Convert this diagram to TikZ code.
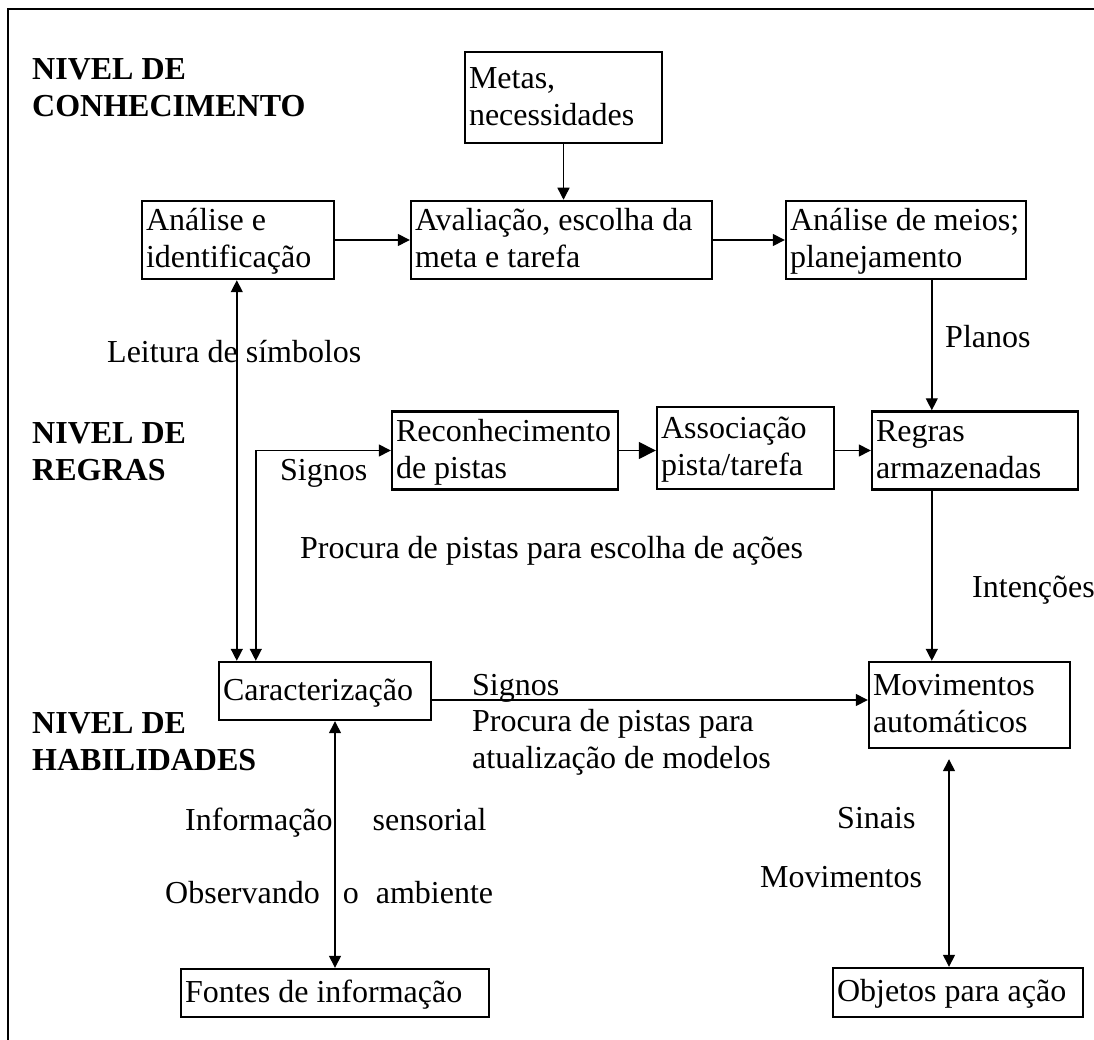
\documentclass[tikz,border=0pt]{standalone}
\usepackage{fontspec}
\setmainfont{Liberation Serif}
\usetikzlibrary{arrows.meta}
\hyphenpenalty=10000
\exhyphenpenalty=10000
% tall strut that opens the first line of a box
\newcommand\topstrut{\rule{0pt}{30pt}}
\begin{document}
\begin{tikzpicture}[x=1pt,y=-1pt,
  every node/.style={font=\fontsize{32}{37}\selectfont},
  box/.style={draw, line width=2.4pt, rectangle, inner xsep=4pt, inner ysep=0pt, align=flush left},
  sz/.style n args={3}{minimum width=#1, minimum height=#2, text width=#3},
  lbl/.style={anchor=base west, inner sep=0pt, align=flush left},
  lvl/.style={lbl, font=\fontsize{32}{37}\selectfont\bfseries},
  conn/.style={line width=1.4pt},
  tip/.style={conn, -{Triangle[length=12pt,width=12pt]}},
  bigtip/.style={conn, -{Triangle[length=17pt,width=17pt]}},
  dbl/.style={conn, {Triangle[length=12pt,width=12pt]}-{Triangle[length=12pt,width=12pt]}}
]
\useasboundingbox (0,0) rectangle (1094,1040);
% outer frame
\draw[line width=1.8pt] (8,1040) -- (8,9) -- (1094,9);

% level titles (anchored at the baseline of their last line)
\node[lvl] (lvk) at (32,117) {NIVEL DE\\CONHECIMENTO};
\node[lvl] (lvr) at (32,480) {NIVEL DE\\REGRAS};
\node[lvl] (lvh) at (32,770) {NIVEL DE\\HABILIDADES};

% boxes
\node[box, sz={197pt}{91pt}{189pt}] (metas) at (563.5,97.5) {\topstrut\mbox{Metas,}\\\mbox{necessidades}\strut};
\node[box, sz={192pt}{78pt}{184pt}] (anal) at (238,240) {\topstrut\mbox{Análise e}\\\mbox{identificação}\strut};
\node[box, sz={301pt}{78pt}{293pt}] (aval) at (561.5,240) {\topstrut\mbox{Avaliação, escolha da}\\\mbox{meta e tarefa}\strut};
\node[box, sz={240pt}{78pt}{232pt}] (meios) at (906,240) {\topstrut\mbox{Análise de meios;}\\\mbox{planejamento}\strut};
\node[box, sz={226pt}{77pt}{218pt}] (recon) at (505,450.5) {\topstrut\mbox{Reconhecimento}\\\mbox{de pistas}\strut};
\node[box, sz={177pt}{82pt}{169pt}] (assoc) at (745.5,448) {\topstrut\mbox{Associação}\\\mbox{pista/tarefa}\strut};
\node[box, sz={206pt}{77pt}{198pt}] (regras) at (975,450.5) {\topstrut\mbox{Regras}\\\mbox{armazenadas}\strut};
\node[box, sz={212pt}{58pt}{204pt}] (caract) at (325,691) {\topstrut\mbox{Caracterização}\strut};
\node[box, sz={201pt}{86pt}{193pt}] (mov) at (969.5,705) {\topstrut\mbox{Movimentos}\\\mbox{automáticos}\strut};
\node[box, sz={308pt}{48pt}{300pt}] (fontes) at (335,993) {\topstrut\mbox{Fontes de informação}\strut};
\node[box, sz={250pt}{49pt}{242pt}] (objetos) at (958,992.5) {\topstrut\mbox{Objetos para ação}\strut};

% connectors
\draw[tip] (metas.south) -- (metas.south |- aval.north);
\draw[tip] (anal.east) -- (aval.west);
\draw[tip] (aval.east) -- (meios.west);
\draw[tip] ([xshift=147pt]meios.south west) coordinate (pl) -- (pl |- regras.north);
\draw[bigtip] (recon.east) -- (recon.east -| assoc.west);
\draw[tip] (regras.west -| assoc.east) -- (regras.west);
\draw[tip] ([xshift=61pt]regras.south west) coordinate (it) -- (it |- mov.north);
\draw[dbl] ([xshift=19pt]caract.north west) coordinate (ls) -- (ls |- anal.south);
\draw[dbl] ([xshift=38pt]caract.north west) |- (recon.west);
\draw[tip] ([yshift=-9pt]caract.east) coordinate (sg) -- (sg -| mov.west);
\draw[dbl] ([xshift=10pt]caract.south) coordinate (is) -- (is |- fontes.north);
\draw[dbl] ([xshift=-20.5pt,yshift=-10pt]mov.south) coordinate (sm) -- (sm |- objetos.north);

% connector labels
\node[lbl] (t1) at (107,362) {Leitura de símbolos};
\node[lbl] (t2) at (945,347) {Planos};
\node[lbl] (t3) at (280,480) {Signos};
\node[lbl] (t4) at (300,558) {Procura de pistas para escolha de ações};
\node[lbl] (t5) at (972,597) {Intenções};
\node[lbl] (t6) at (472,695) {Signos};
\node[lbl] (t7) at (472,768) {Procura de pistas para\\atualização de modelos};
\node[lbl] (t8) at (185,830) {Informação\hspace{40pt}sensorial};
\node[lbl] (t9) at (165,903) {Observando\hspace{23pt}o\hspace{17pt}ambiente};
\node[lbl] (t10) at (837,828) {Sinais};
\node[lbl] (t11) at (760,887) {Movimentos};
\end{tikzpicture}
\end{document}
